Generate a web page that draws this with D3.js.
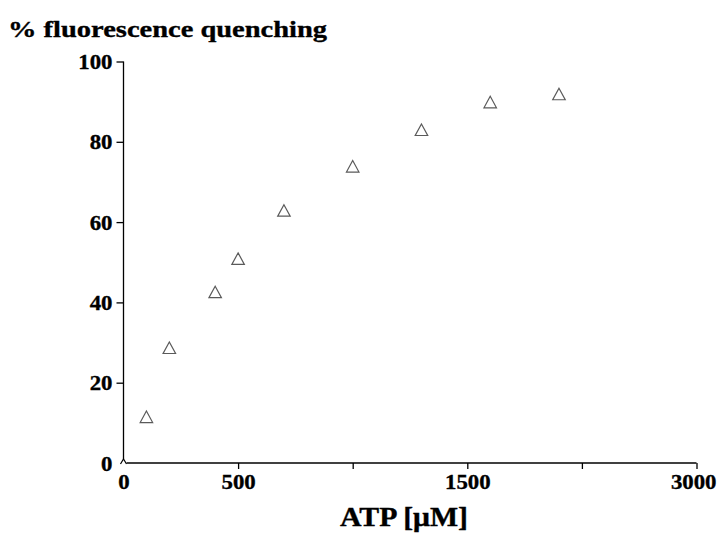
<!DOCTYPE html>
<html>
<head>
<meta charset="utf-8">
<script src="https://cdn.jsdelivr.net/npm/d3@7"></script>
<style>
  html, body { margin: 0; padding: 0; background: #fff; }
  svg text { font-family: "Liberation Serif", "Times New Roman", Tinos, serif; font-weight: bold; fill: #000; stroke: #000; stroke-width: 0.35px; }
</style>
</head>
<body>
<svg id="chart" width="722" height="533"></svg>
<script>
// ATP concentration (µM) and measured fluorescence quenching (%)
const atp = [100, 200, 400, 500, 700, 1000, 1300, 1600, 1900];
const quenching = [11.5, 28.7, 42.6, 50.9, 62.9, 73.9, 83.0, 89.9, 91.9];

// Axis ticks and their printed labels
const xTickValues = [0, 500, 1000, 1500, 2000, 2500];
const xTickLabels = ["0", "500", "", "1500", "", "3000"];
const yTickValues = [0, 20, 40, 60, 80, 100];

const svg = d3.select("#chart");

const x = d3.scaleLinear().domain([0, 2500]).range([123.5, 696.5]);
const y = d3.scaleLinear().domain([0, 100]).range([463, 61.5]);

const DIGIT_W = 11.4;   // printed width of one numeral
const fitDigits = sel => sel.each(function () {
  const s = this.textContent;
  if (s.length) d3.select(this).attr("textLength", s.length * DIGIT_W).attr("lengthAdjust", "spacingAndGlyphs");
});

// X axis
const xAxis = d3.axisBottom(x)
  .tickValues(xTickValues)
  .tickFormat((d, i) => xTickLabels[i])
  .tickSize(6)
  .tickSizeOuter(0);
const gx = svg.append("g").attr("transform", `translate(0,${y(0)})`).call(xAxis);
gx.attr("font-family", null).attr("font-size", null);
gx.select(".domain").remove();
gx.selectAll(".tick").filter(d => d === 0).select("line").remove();
gx.selectAll(".tick line").attr("stroke", "#000").attr("stroke-width", 1.3);
gx.selectAll(".tick text")
  .attr("y", 26)
  .attr("dy", null)
  .style("font-size", "21px")
  .call(fitDigits);
// the last label sits inside the right edge
gx.selectAll(".tick text").filter(d => d === 2500)
  .attr("text-anchor", "end")
  .attr("x", 716 - x(2500));
gx.append("line")
  .attr("x1", x(0) + 3).attr("x2", x(2500))
  .attr("y1", 0).attr("y2", 0)
  .attr("stroke", "#000").attr("stroke-width", 1.3);

// Y axis
const yAxis = d3.axisLeft(y)
  .tickValues(yTickValues)
  .tickFormat(d3.format("d"))
  .tickSize(7)
  .tickSizeOuter(0);
const gy = svg.append("g").attr("transform", `translate(${x(0)},0)`).call(yAxis);
gy.attr("font-family", null).attr("font-size", null);
gy.select(".domain").remove();
gy.selectAll(".tick").filter(d => d === 0).select("line").remove();
gy.selectAll(".tick line").attr("stroke", "#000").attr("stroke-width", 1.3);
gy.selectAll(".tick text")
  .attr("x", -11)
  .attr("dy", "0.34em")
  .style("font-size", "21px")
  .call(fitDigits);
gy.append("line")
  .attr("x1", 0).attr("x2", 0)
  .attr("y1", y(100)).attr("y2", y(0) - 4)
  .attr("stroke", "#000").attr("stroke-width", 1.3);
// small break mark where the two axes meet
svg.append("path")
  .attr("d", `M${x(0) - 3},${y(0) + 1} L${x(0)},${y(0) - 4} L${x(0) + 3},${y(0) + 1}`)
  .attr("fill", "none").attr("stroke", "#000").attr("stroke-width", 1.2);

// Data points: open triangles centred on their bounding box
const TRI_W = 12.5, TRI_H = 11.5;
const triangle = `M0,${-TRI_H / 2} L${TRI_W / 2},${TRI_H / 2} L${-TRI_W / 2},${TRI_H / 2} Z`;
svg.append("g").selectAll("path")
  .data(atp.map((a, i) => ({ a, q: quenching[i] })))
  .join("path")
  .attr("d", triangle)
  .attr("transform", d => `translate(${x(d.a)},${y(d.q)})`)
  .attr("fill", "none")
  .attr("stroke", "#5a5a5a")
  .attr("stroke-width", 1.2)
  .attr("stroke-linejoin", "miter");

// Titles
svg.append("text")
  .attr("x", 8).attr("y", 37)
  .attr("textLength", 319).attr("lengthAdjust", "spacingAndGlyphs")
  .style("font-size", "24px")
  .text("% fluorescence quenching");

svg.append("text")
  .attr("x", 340).attr("y", 526)
  .attr("textLength", 128).attr("lengthAdjust", "spacingAndGlyphs")
  .style("font-size", "27px")
  .text("ATP [\u03bcM]");
</script>
</body>
</html>
